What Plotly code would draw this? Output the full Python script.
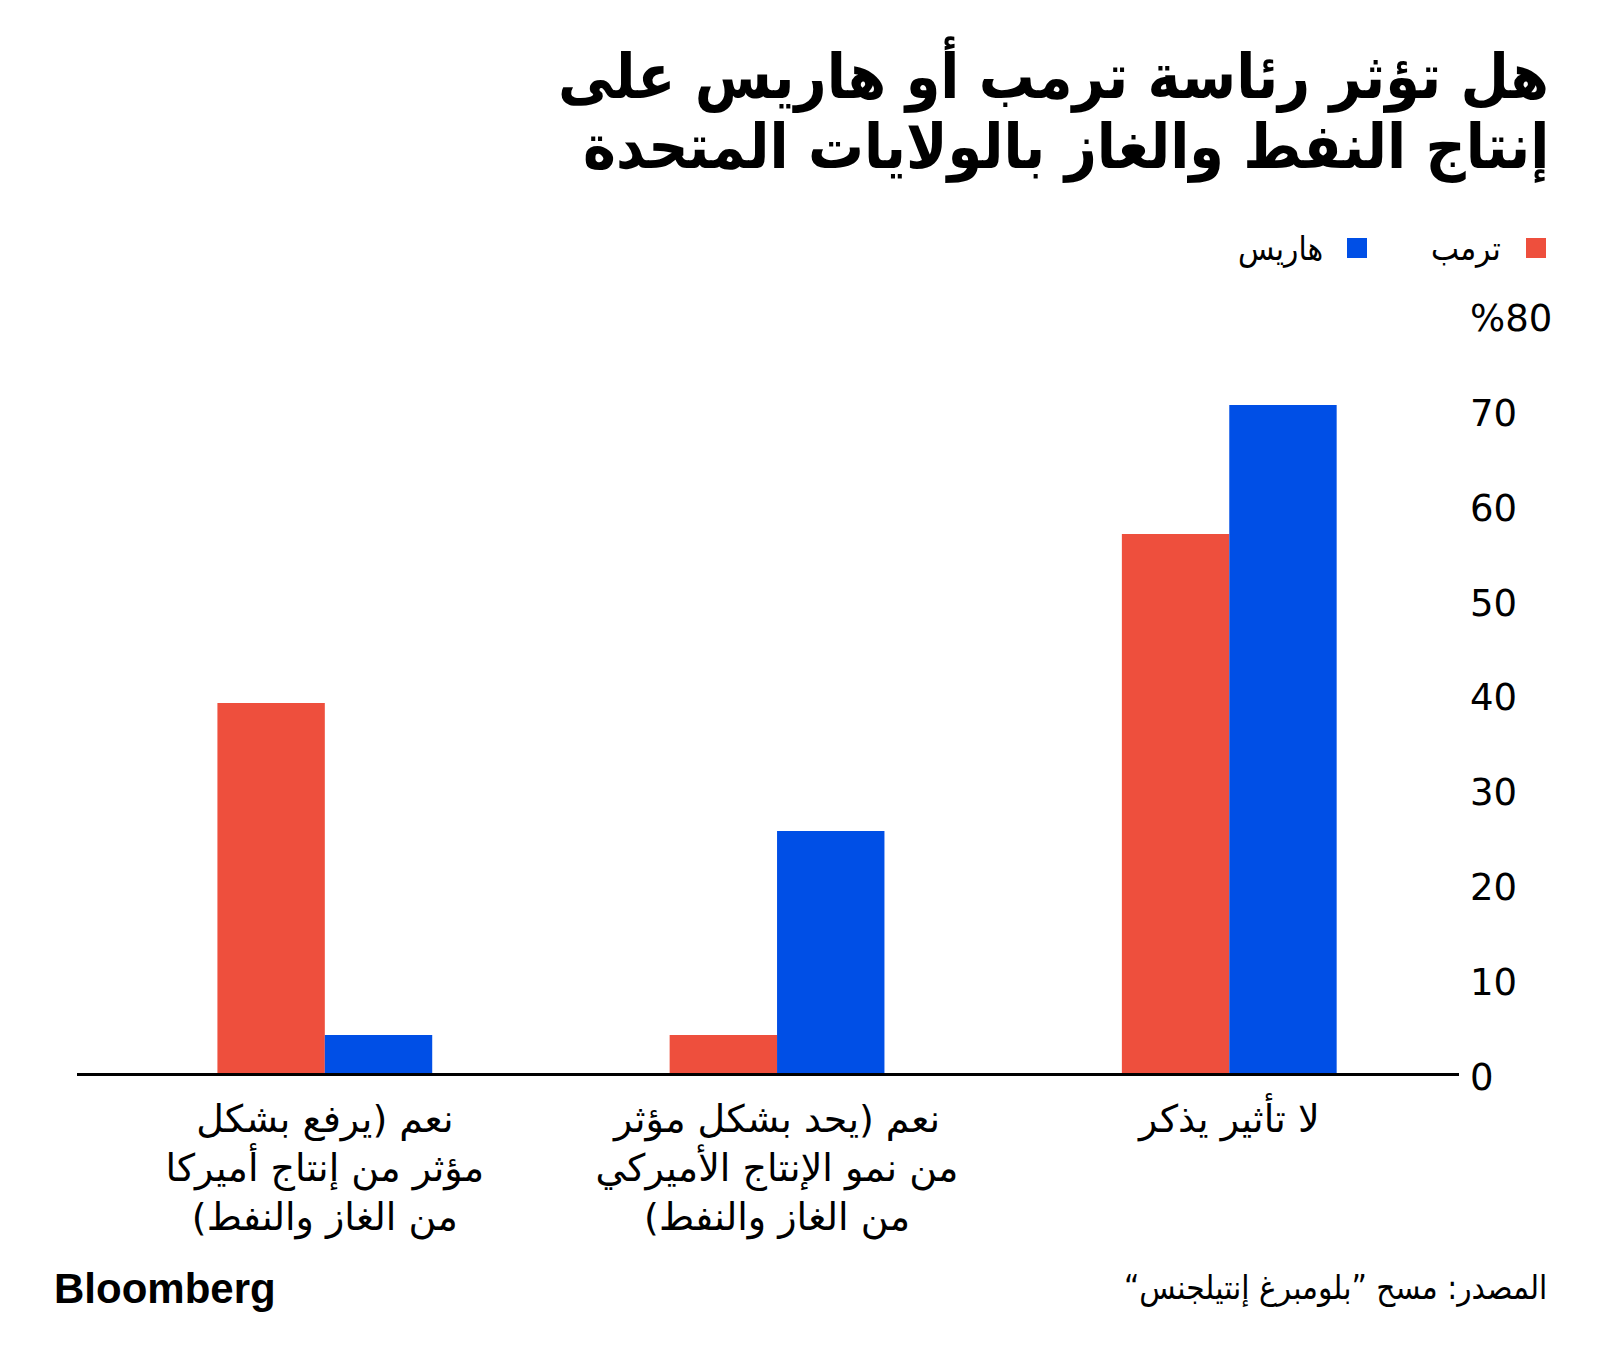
import plotly.graph_objects as go

# ---------------- data ----------------
categories = [
    "نعم (يرفع بشكل<br>مؤثر من إنتاج أميركا<br>من الغاز والنفط)\u200f",
    "نعم (يحد بشكل مؤثر<br>من نمو الإنتاج الأميركي<br>من الغاز والنفط)\u200f",
    "لا تأثير يذكر",
]
trump_values = [39, 4, 56.8]
harris_values = [4, 25.5, 70.4]
series_names = ["ترمب", "هاريس"]
y_tickvals = [0, 10, 20, 30, 40, 50, 60, 70, 80]
y_ticktext = ["0", "10", "20", "30", "40", "50", "60", "70", "%80"]

title_lines = ["هل تؤثر رئاسة ترمب أو هاريس على", "إنتاج النفط والغاز بالولايات المتحدة"]
source_text = "المصدر: مسح ”بلومبرغ إنتيلجنس“\u200f"
brand_text = "Bloomberg"

RED = "#EE4F3D"
BLUE = "#004FE6"
W, H = 1600, 1364
OFF = 8  # page body margin offset
AR_FONT = "DejaVu Sans Condensed, DejaVu Sans"
LBL_FONT = "DejaVu Sans"
NUM_FONT = "DejaVu Sans"


def X(px):
    return (px - OFF) / W


def Y(py):
    return 1 - (py - OFF) / H


fig = go.Figure()
fig.add_trace(go.Bar(x=categories, y=trump_values, name=series_names[0],
                     marker=dict(color=RED, line=dict(width=0)), showlegend=False))
fig.add_trace(go.Bar(x=categories, y=harris_values, name=series_names[1],
                     marker=dict(color=BLUE, line=dict(width=0)), showlegend=False))

fig.update_layout(
    width=W, height=H,
    margin=dict(l=0, r=0, t=0, b=0),
    paper_bgcolor="white", plot_bgcolor="white",
    barmode="group", bargap=0.525, bargroupgap=0,
    xaxis=dict(
        domain=[X(77), X(1459)],
        range=[-0.548, 2.508],
        showline=True, linecolor="black", linewidth=3,
        ticks="", showgrid=False, zeroline=False,
        tickfont=dict(family=LBL_FONT, size=38, color="black"),
        ticklabelstandoff=10,
        automargin=False,
        fixedrange=True,
    ),
    yaxis=dict(
        domain=[Y(1073), Y(314)],
        range=[0, 80],
        side="right",
        tickvals=y_tickvals, ticktext=y_ticktext,
        showgrid=False, zeroline=False, showline=False, ticks="",
        tickfont=dict(family=NUM_FONT, size=37, color="black"),
        ticklabelstandoff=10,
        ticklabelshift=4,
        automargin=False,
    ),
)

annotations = [
    dict(text="<b>" + title_lines[0] + "</b>", x=X(1551), y=Y(34), xref="paper", yref="paper",
         xanchor="right", yanchor="top", align="right", showarrow=False,
         font=dict(family=AR_FONT, size=62, color="black")),
    dict(text="<b>" + title_lines[1] + "</b>", x=X(1551), y=Y(108), xref="paper", yref="paper",
         xanchor="right", yanchor="top", align="right", showarrow=False,
         font=dict(family=AR_FONT, size=62, color="black")),
    dict(text=series_names[0], x=X(1503), y=Y(248), xref="paper", yref="paper",
         xanchor="right", yanchor="middle", showarrow=False,
         font=dict(family=AR_FONT, size=33, color="black")),
    dict(text=series_names[1], x=X(1325), y=Y(248), xref="paper", yref="paper",
         xanchor="right", yanchor="middle", showarrow=False,
         font=dict(family=AR_FONT, size=33, color="black")),
    dict(text=source_text, x=X(1549), y=Y(1288), xref="paper", yref="paper",
         xanchor="right", yanchor="middle", showarrow=False,
         font=dict(family=AR_FONT, size=33, color="black")),
    dict(text="<b>" + brand_text + "</b>", x=X(52), y=Y(1288), xref="paper", yref="paper",
         xanchor="left", yanchor="middle", showarrow=False,
         font=dict(family="Liberation Sans, Arial", size=42, color="black")),
]
fig.update_layout(annotations=annotations)

shapes = [
    dict(type="rect", xref="paper", yref="paper", x0=X(1526), x1=X(1546), y0=Y(258), y1=Y(238),
         fillcolor=RED, line=dict(width=0)),
    dict(type="rect", xref="paper", yref="paper", x0=X(1347), x1=X(1367), y0=Y(258), y1=Y(238),
         fillcolor=BLUE, line=dict(width=0)),
]
fig.update_layout(shapes=shapes)

fig.write_html("out.html", config={"displayModeBar": False})
